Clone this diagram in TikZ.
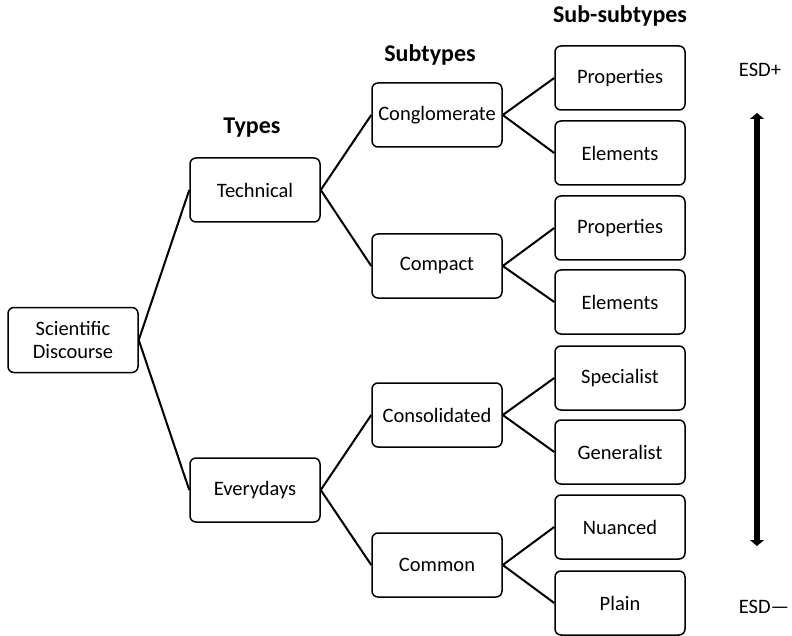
\documentclass[tikz,border=0pt]{standalone}
\usepackage{fontspec}
\setmainfont{Carlito}
\usetikzlibrary{arrows.meta}
\begin{document}
\begin{tikzpicture}[x=1pt,y=-1pt,
  box/.style={draw=black,line width=1.5pt,rounded corners=6pt,minimum width=130pt,minimum height=64pt,align=center,inner sep=0pt,font=\fontsize{20.5}{23}\selectfont},
  hdr/.style={font=\fontsize{24}{28}\selectfont\bfseries},
  conn/.style={line width=2pt},
  lbl/.style={font=\fontsize{20.5}{24}\selectfont}]
\useasboundingbox (0,0) rectangle (792,636);
\node[box,minimum height=65pt] (sd) at (73,340) {Scientific\\Discourse};
\node[box] (tech) at (255,190) {Technical};
\node[box] (every) at (255,490) {Everydays};
\node[box] (cong) at (437,115) {Conglomerate};
\node[box] (comp) at (437,266) {Compact};
\node[box] (cons) at (437,415) {Consolidated};
\node[box] (comm) at (437,565) {Common};
\node[box] (p1) at (620,78) {Properties};
\node[box] (e1) at (620,153) {Elements};
\node[box] (p2) at (620,228) {Properties};
\node[box] (e2) at (620,302) {Elements};
\node[box] (sp) at (620,378) {Specialist};
\node[box] (ge) at (620,452) {Generalist};
\node[box] (nu) at (620,527) {Nuanced};
\node[box] (pl) at (620,603) {Plain};
\node[hdr] (h1) at (252,128) {Types};
\node[hdr] (h2) at (430,55) {Subtypes};
\node[hdr] (h3) at (620,16) {Sub-subtypes};
\node[lbl] (esdp) at (760,70) {ESD+};
\node[lbl] (esdm) at (764,607) {ESD—};
\draw[conn] (sd.east) -- (tech.west);
\draw[conn] (sd.east) -- (every.west);
\draw[conn] (tech.east) -- (cong.west);
\draw[conn] (tech.east) -- (comp.west);
\draw[conn] (every.east) -- (cons.west);
\draw[conn] (every.east) -- (comm.west);
\draw[conn] (cong.east) -- (p1.west);
\draw[conn] (cong.east) -- (e1.west);
\draw[conn] (comp.east) -- (p2.west);
\draw[conn] (comp.east) -- (e2.west);
\draw[conn] (cons.east) -- (sp.west);
\draw[conn] (cons.east) -- (ge.west);
\draw[conn] (comm.east) -- (nu.west);
\draw[conn] (comm.east) -- (pl.west);
\coordinate (atop) at (757,113);
\coordinate (abot) at (757,546);
\draw[line width=5.5pt,{Triangle[length=6pt,width=14pt]}-{Triangle[length=6pt,width=14pt]}] (atop) -- (abot);
\end{tikzpicture}
\end{document}
